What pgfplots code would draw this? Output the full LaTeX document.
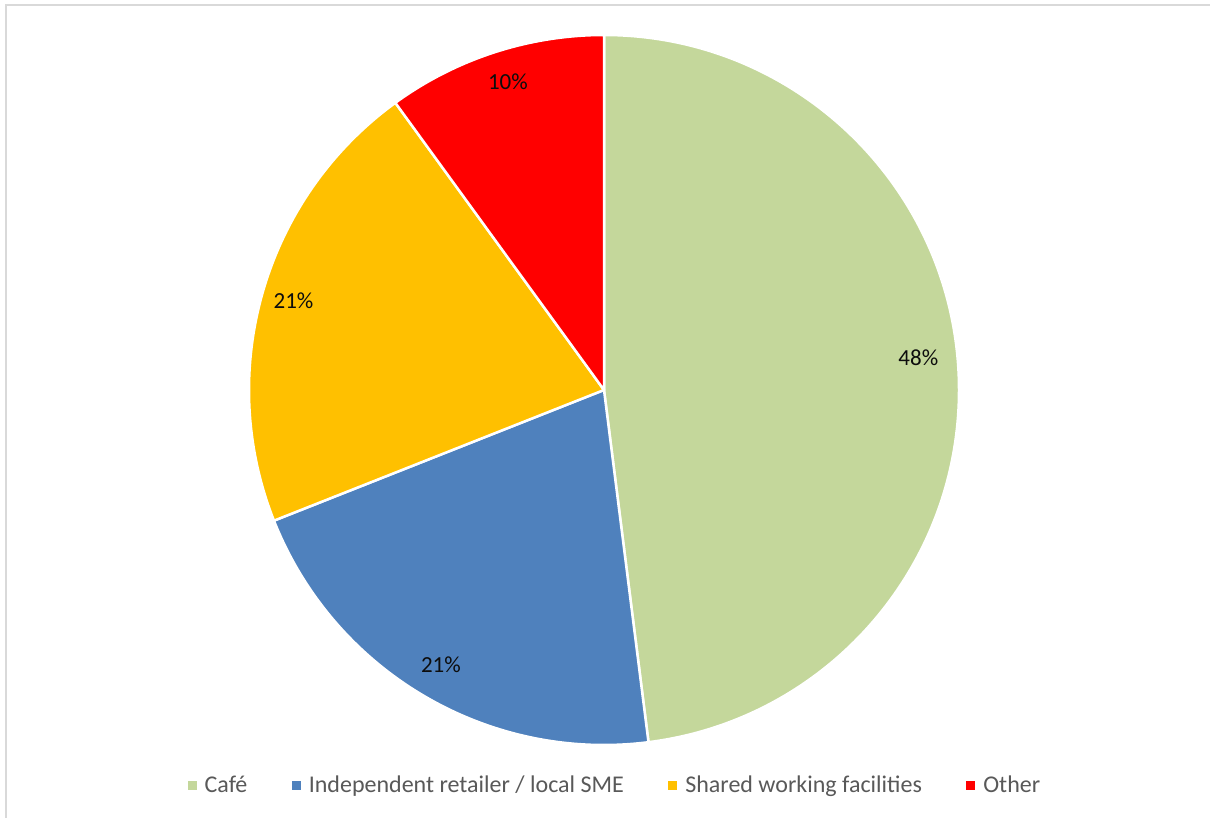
\documentclass[border=0pt]{standalone}
\usepackage{pgfplots}
\pgfplotsset{compat=1.18}
\usepackage{pgfplotstable}
\usepackage{fontspec}
\setmainfont{Carlito}
\definecolor{cafe}{HTML}{C4D79B}
\definecolor{indep}{HTML}{4F81BD}
\definecolor{shared}{HTML}{FFC000}
\definecolor{other}{HTML}{FF0000}
\definecolor{framegray}{HTML}{D9D9D9}
\definecolor{textgray}{HTML}{595959}

% value = percentage share; lang/lrad = label placement (angle, radius fraction)
\pgfplotstableread[col sep=comma]{
label,value,color,lang,lrad
Café,48,cafe,5.8,0.89
Independent retailer / local SME,21,indep,-120.7,0.90
Shared working facilities,21,shared,164,0.91
Other,10,other,107.3,0.91
}\piedata

\begin{document}
\begin{tikzpicture}
\useasboundingbox (0,0) rectangle (1210pt,818pt);
\fill[white] (0,0) rectangle (1210pt,818pt);
\draw[framegray, line width=1.5pt] (6pt,-5pt) -- (6pt,813pt) -- (1215pt,813pt);
\begin{axis}[
  at={(604pt,428pt)}, anchor=center,
  width=710pt, height=710pt, scale only axis,
  xmin=-1, xmax=1, ymin=-1, ymax=1,
  hide axis, clip=false,
  legend columns=4,
  legend style={at={(0.520,-0.056)}, anchor=center, draw=none, fill=none,
    font=\fontsize{24}{28}\selectfont, text=textgray,
    nodes={inner xsep=8.5pt, inner ysep=2pt},
    /tikz/every even column/.append style={column sep=36pt}},
]
\pgfplotsextra{
  \gdef\cumval{0}
  \pgfplotstablegetrowsof{\piedata}
  \pgfmathtruncatemacro\lastrow{\pgfplotsretval-1}
  \foreach \i in {0,...,\lastrow}{
    \pgfplotstablegetelem{\i}{value}\of\piedata \let\sliceval\pgfplotsretval
    \pgfplotstablegetelem{\i}{color}\of\piedata \let\slicecol\pgfplotsretval
    \pgfplotstablegetelem{\i}{lang}\of\piedata \let\labang\pgfplotsretval
    \pgfplotstablegetelem{\i}{lrad}\of\piedata \let\labrad\pgfplotsretval
    \pgfmathsetmacro\angA{90-3.6*\cumval}
    \pgfmathsetmacro\angB{90-3.6*(\cumval+\sliceval)}
    \pgfmathsetmacro\xa{cos(\angA)}
    \pgfmathsetmacro\ya{sin(\angA)}
    \pgfmathsetmacro\xl{\labrad*cos(\labang)}
    \pgfmathsetmacro\yl{\labrad*sin(\labang)}
    \filldraw[fill=\slicecol, draw=white, line width=2.5pt, line join=round]
      (axis cs:0,0) -- (axis cs:\xa,\ya) arc[start angle=\angA, end angle=\angB, radius=355pt] -- cycle;
    \node[font=\fontsize{23}{27}\selectfont, text=black!95] at (axis cs:\xl,\yl) {\sliceval\%};
    \pgfmathsetmacro\newcum{\cumval+\sliceval}
    \xdef\cumval{\newcum}
  }
}
\addlegendimage{legend image code/.code={\fill[cafe] (0pt,-4pt) rectangle (8pt,4pt);}}
\addlegendentry{Café}
\addlegendimage{legend image code/.code={\fill[indep] (0pt,-4pt) rectangle (8pt,4pt);}}
\addlegendentry{Independent retailer / local SME}
\addlegendimage{legend image code/.code={\fill[shared] (0pt,-4pt) rectangle (8pt,4pt);}}
\addlegendentry{Shared working facilities}
\addlegendimage{legend image code/.code={\fill[other] (0pt,-4pt) rectangle (8pt,4pt);}}
\addlegendentry{Other}
\end{axis}
\end{tikzpicture}
\end{document}
